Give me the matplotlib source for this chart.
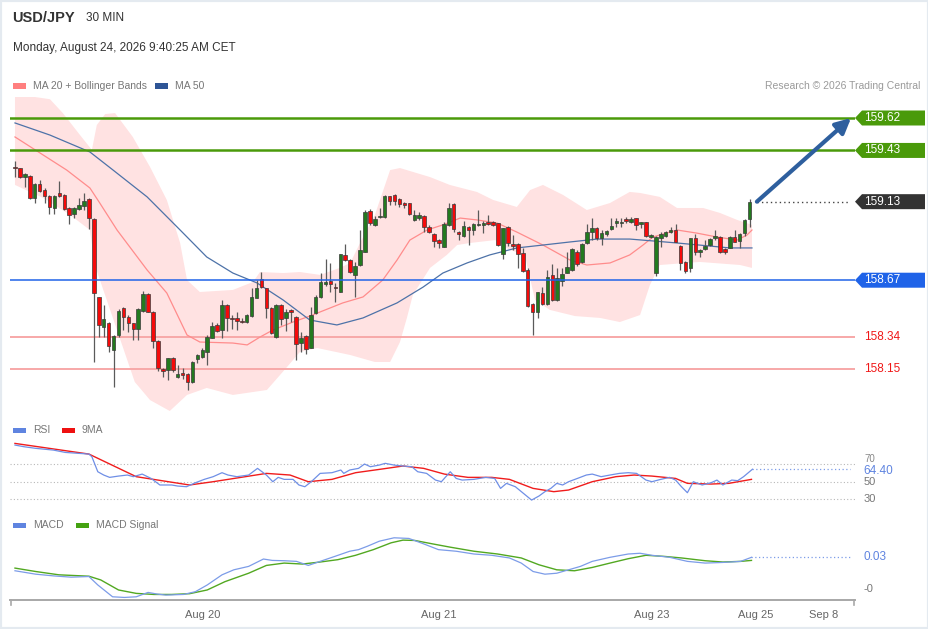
import numpy as np
import matplotlib
matplotlib.use("Agg")
import matplotlib.pyplot as plt
from matplotlib.patches import Polygon, Rectangle
from matplotlib.lines import Line2D
import matplotlib.transforms as mtransforms

plt.rcParams['font.family'] = ['Liberation Sans', 'DejaVu Sans']

W, H = 929, 629

# ---- 30 min candles (open, high, low, close) ----
opens = [159.333, 159.325, 159.272, 159.282, 159.149, 159.231, 159.200, 159.165, 159.095, 159.179,
         159.169, 159.091, 159.058, 159.087, 159.104, 159.145, 159.026, 158.570, 158.398, 158.417,
         158.261, 158.349, 158.509, 158.456, 158.417, 158.384, 158.489, 158.591, 158.486, 158.314,
         158.148, 158.144, 158.216, 158.105, 158.124, 158.119, 158.076, 158.208, 158.222, 158.251,
         158.333, 158.407, 158.378, 158.525, 158.450, 158.450, 158.431, 158.427, 158.462, 158.568,
         158.675, 158.622, 158.505, 158.339, 158.525, 158.446, 158.493, 158.454, 158.300, 158.343,
         158.275, 158.476, 158.573, 158.648, 158.665, 158.628, 158.603, 158.817, 158.786, 158.700,
         158.759, 158.837, 159.075, 158.993, 159.038, 159.038, 159.163, 159.169, 159.145, 159.120,
         159.120, 159.022, 159.032, 159.048, 158.979, 158.938, 158.905, 158.866, 158.993, 159.114,
         158.954, 158.929, 158.983, 158.964, 158.993, 158.993, 159.013, 159.013, 159.003, 158.821,
         158.983, 158.880, 158.882, 158.827, 158.730, 158.530, 158.486, 158.597, 158.528, 158.700,
         158.554, 158.665, 158.714, 158.730, 158.837, 158.774, 158.886, 158.954, 158.977, 158.919,
         158.938, 158.970, 159.003, 159.003, 159.026, 159.013, 159.032, 158.997, 159.009, 158.925,
         158.710, 158.919, 158.929, 158.954, 158.964, 158.872, 158.778, 158.739, 158.915, 158.833,
         158.851, 158.876, 158.915, 158.925, 158.853, 158.860, 158.925, 158.899, 158.944, 159.028]
highs = [159.368, 159.325, 159.296, 159.286, 159.237, 159.257, 159.208, 159.169, 159.169, 159.251,
         159.173, 159.100, 159.100, 159.149, 159.179, 159.149, 159.032, 158.573, 158.525, 158.427,
         158.349, 158.501, 158.515, 158.466, 158.421, 158.505, 158.607, 158.593, 158.489, 158.320,
         158.154, 158.216, 158.222, 158.173, 158.154, 158.124, 158.197, 158.236, 158.275, 158.349,
         158.427, 158.417, 158.554, 158.528, 158.466, 158.486, 158.446, 158.470, 158.626, 158.671,
         158.720, 158.626, 158.515, 158.528, 158.528, 158.501, 158.501, 158.460, 158.368, 158.349,
         158.515, 158.583, 158.710, 158.794, 158.772, 158.651, 158.825, 158.880, 158.792, 158.774,
         158.964, 159.081, 159.087, 159.048, 159.091, 159.169, 159.165, 159.173, 159.149, 159.130,
         159.124, 159.081, 159.071, 159.052, 158.993, 158.944, 158.909, 159.013, 159.124, 159.120,
         158.958, 159.017, 158.987, 159.003, 159.081, 159.017, 159.052, 159.017, 159.007, 158.977,
         158.987, 158.935, 158.886, 158.856, 158.739, 158.534, 158.603, 158.632, 158.730, 158.763,
         158.739, 158.743, 158.837, 158.856, 158.847, 158.886, 158.997, 159.032, 158.983, 158.964,
         158.964, 159.036, 159.032, 159.032, 159.042, 159.042, 159.036, 159.013, 159.013, 158.942,
         158.929, 158.954, 158.958, 158.983, 158.997, 158.876, 158.782, 158.919, 158.938, 158.853,
         158.905, 158.919, 158.964, 158.929, 158.856, 158.929, 158.964, 158.944, 159.026, 159.143]
lows = [159.276, 159.266, 159.214, 159.148, 159.120, 159.188, 159.120, 159.056, 159.058, 159.159,
        159.081, 158.997, 159.032, 159.081, 159.081, 158.970, 158.193, 158.339, 158.339, 158.251,
        158.046, 158.339, 158.378, 158.368, 158.320, 158.320, 158.486, 158.482, 158.271, 158.138,
        158.105, 158.085, 158.134, 158.099, 158.091, 158.027, 158.070, 158.183, 158.216, 158.173,
        158.329, 158.368, 158.329, 158.372, 158.384, 158.378, 158.417, 158.417, 158.456, 158.564,
        158.626, 158.446, 158.353, 158.333, 158.407, 158.372, 158.427, 158.203, 158.251, 158.236,
        158.271, 158.470, 158.568, 158.638, 158.603, 158.544, 158.599, 158.782, 158.710, 158.573,
        158.755, 158.833, 158.993, 158.989, 159.032, 159.032, 159.110, 159.110, 159.100, 159.091,
        159.052, 159.018, 159.022, 158.950, 158.944, 158.866, 158.860, 158.862, 158.989, 158.950,
        158.905, 158.925, 158.876, 158.935, 158.987, 158.948, 158.993, 158.989, 158.872, 158.794,
        158.872, 158.847, 158.739, 158.720, 158.515, 158.349, 158.446, 158.525, 158.525, 158.550,
        158.550, 158.638, 158.710, 158.724, 158.755, 158.769, 158.880, 158.905, 158.905, 158.876,
        158.931, 158.964, 158.983, 158.983, 159.003, 159.003, 158.964, 158.974, 158.925, 158.915,
        158.696, 158.866, 158.925, 158.944, 158.892, 158.730, 158.710, 158.716, 158.817, 158.808,
        158.847, 158.872, 158.905, 158.827, 158.823, 158.856, 158.892, 158.860, 158.931, 158.983]
closes = [159.325, 159.276, 159.292, 159.149, 159.233, 159.194, 159.165, 159.100, 159.161, 159.165,
          159.085, 159.052, 159.091, 159.110, 159.134, 159.036, 158.593, 158.407, 158.441, 158.286,
          158.343, 158.489, 158.452, 158.417, 158.382, 158.499, 158.587, 158.486, 158.314, 158.154,
          158.138, 158.212, 158.144, 158.122, 158.115, 158.076, 158.193, 158.232, 158.261, 158.339,
          158.404, 158.372, 158.525, 158.446, 158.443, 158.431, 158.423, 158.466, 158.570, 158.622,
          158.632, 158.505, 158.359, 158.525, 158.441, 158.486, 158.486, 158.294, 158.333, 158.267,
          158.466, 158.573, 158.657, 158.661, 158.646, 158.624, 158.821, 158.788, 158.720, 158.755,
          158.847, 159.067, 159.003, 159.026, 159.046, 159.163, 159.136, 159.136, 159.114, 159.110,
          159.056, 159.050, 159.052, 158.979, 158.954, 158.899, 158.886, 158.997, 159.095, 158.970,
          158.942, 158.987, 158.964, 158.997, 158.999, 159.007, 158.997, 158.993, 158.876, 158.974,
          158.886, 158.872, 158.821, 158.724, 158.521, 158.486, 158.599, 158.528, 158.691, 158.554,
          158.685, 158.704, 158.749, 158.853, 158.763, 158.880, 158.950, 158.977, 158.915, 158.944,
          158.958, 158.987, 159.017, 159.013, 159.017, 159.028, 158.993, 159.009, 158.931, 158.935,
          158.925, 158.940, 158.954, 158.964, 158.895, 158.769, 158.724, 158.915, 158.833, 158.847,
          158.872, 158.911, 158.929, 158.833, 158.833, 158.925, 158.895, 158.940, 159.022, 159.126]

# ---- Bollinger bands / moving averages (candle index, price) ----
bb_upper_idx = [0, 7.1, 9.7, 13.2, 15.6, 16.6, 18.3, 20.3, 23.9, 27.4, 30.8, 33.5, 34.9, 37.5, 44.2,
                48.3, 49.7, 54.4, 57.8, 61.9, 65.9, 68.0, 70.0, 73.0, 76.1, 78.1, 84.2, 88.2, 93.7,
                97.0, 101.8, 104.5, 107.1, 111.2, 116.0, 120.7, 124.7, 126.8, 130.8, 134.3, 139.6,
                143.0, 146.5, 149.5]
bb_upper = [159.76, 159.73, 159.649, 159.520, 159.433, 159.579, 159.643, 159.649, 159.509, 159.333,
            159.140, 158.888, 158.671, 158.601, 158.613, 158.660, 158.718, 158.712, 158.718, 158.701,
            158.742, 158.771, 158.888, 159.052, 159.315, 159.327, 159.274, 159.228, 159.187, 159.140,
            159.099, 159.198, 159.228, 159.169, 159.081, 159.122, 159.187, 159.181, 159.158, 159.093,
            159.093, 159.064, 159.023, 158.994]
bb_lower_idx = [0, 5.7, 11.2, 15.2, 16.2, 19.3, 24.3, 27.4, 31.4, 34.9, 38.9, 44.2, 51.1, 55.2, 57.8,
                61.3, 68.0, 73.0, 76.1, 78.1, 79.5, 80.7, 84.2, 87.6, 89.7, 92.3, 97.4, 100.4, 103.4,
                105.5, 108.5, 113.6, 118.7, 122.7, 126.8, 128.8, 130.8, 138.9, 147.1, 149.5]
bb_lower = [159.228, 159.152, 159.052, 158.964, 158.759, 158.496, 158.074, 157.968, 157.904, 157.998,
            158.039, 157.998, 158.027, 158.162, 158.250, 158.273, 158.232, 158.191, 158.191, 158.308,
            158.449, 158.583, 158.742, 158.818, 158.876, 158.888, 158.905, 158.847, 158.818, 158.554,
            158.496, 158.460, 158.449, 158.425, 158.466, 158.642, 158.759, 158.777, 158.759, 158.742]
ma20_idx = [0, 10.5, 15.2, 17.2, 20.7, 26.8, 30.8, 34.9, 37.5, 44.2, 47.1, 49.7, 52.3, 56.4, 59.8,
            66.5, 70.6, 74.6, 77.5, 80.1, 83.6, 86.8, 90.3, 93.7, 97.8, 101.8, 107.1, 112.6, 116.0,
            120.7, 124.7, 127.4, 129.4, 134.3, 138.3, 142.4, 146.5, 148.5, 149.5]
ma20 = [159.509, 159.315, 159.210, 159.122, 158.964, 158.730, 158.595, 158.349, 158.308, 158.302,
        158.291, 158.337, 158.378, 158.425, 158.460, 158.537, 158.572, 158.671, 158.788, 158.905,
        158.964, 158.994, 159.034, 159.023, 159.005, 158.952, 158.876, 158.788, 158.759, 158.771,
        158.818, 158.876, 158.923, 158.964, 158.946, 158.923, 158.905, 158.935, 158.964]
ma50_idx = [0, 7.1, 15.2, 19.9, 26.8, 33.5, 38.9, 44.2, 49.1, 54.4, 59.8, 65.3, 70.6, 77.5, 82.8,
            86.8, 91.7, 96.3, 101.8, 107.1, 112.6, 118.1, 124.7, 129.4, 134.3, 141.0, 145.0, 149.5]
ma50 = [159.591, 159.520, 159.421, 159.315, 159.158, 158.964, 158.806, 158.712, 158.654, 158.554,
        158.437, 158.408, 158.449, 158.537, 158.630, 158.712, 158.771, 158.818, 158.859, 158.876,
        158.894, 158.911, 158.911, 158.900, 158.888, 158.870, 158.859, 158.859]

# ---- RSI pane ----
rsi_idx = [0, 1.8, 4.2, 7.8, 10.2, 15.0, 15.6, 16.8, 18.0, 19.2, 21.0, 22.8, 24.0, 25.8, 27.6, 29.4,
           31.8, 33.0, 34.8, 36.6, 38.4, 40.2, 42.0, 43.2, 45.0, 47.4, 49.2, 51.0, 52.3, 53.4, 54.6,
           56.4, 57.6, 58.8, 60.1, 61.9, 64.3, 66.1, 66.7, 67.9, 69.7, 70.9, 72.1, 73.9, 75.1, 76.9,
           78.7, 80.5, 81.7, 83.5, 85.3, 86.5, 88.3, 89.5, 90.7, 93.1, 95.5, 97.3, 98.5, 99.7, 101.5,
           103.3, 104.8, 106.3, 107.5, 108.7, 109.9, 111.1, 112.3, 114.1, 115.9, 117.1, 118.9, 120.7,
           122.6, 124.4, 126.1, 128.0, 129.2, 131.0, 132.8, 134.0, 135.2, 136.4, 137.6, 139.4, 141.2,
           142.4, 143.6, 145.4, 146.6, 147.8, 149.6]
rsi = [92.3, 90.4, 88.5, 86.5, 83.8, 81.9, 78.8, 61.5, 57.7, 55.0, 56.5, 57.7, 55.8, 58.8, 53.8, 46.2,
       46.2, 45.0, 44.2, 48.8, 52.7, 55.8, 60.4, 57.7, 55.8, 57.7, 65.4, 57.7, 50.0, 55.0, 52.7,
       52.7, 46.2, 44.2, 50.0, 59.6, 60.4, 63.5, 59.6, 63.5, 65.4, 70.4, 67.3, 69.2, 71.2, 69.2,
       68.1, 67.3, 61.5, 59.6, 51.9, 50.0, 61.5, 53.8, 51.9, 52.7, 55.0, 53.8, 42.3, 48.1, 44.2,
       35.8, 28.8, 33.5, 38.5, 42.3, 48.1, 46.2, 50.0, 53.8, 57.7, 58.8, 55.8, 57.7,
       59.6, 60.4, 59.6, 51.9, 50.0, 52.7, 55.0, 51.9, 44.2, 37.3, 50.0, 46.2, 48.8,
       51.9, 46.2, 51.9, 51.2, 55.8, 64.4]
rsi_ma_idx = [0, 15.0, 24.6, 35.4, 40.2, 51.0, 55.8, 59.5, 64.3, 69.1, 73.9, 78.7, 82.9, 87.1, 91.9,
              96.7, 100.3, 105.1, 109.3, 112.3, 117.1, 121.9, 125.6, 129.2, 134.0, 136.4, 141.2,
              144.8, 149.4]
rsi_ma = [94.2, 81.9, 55.8, 46.2, 50.0, 59.6, 57.7, 50.0, 52.7, 60.4, 64.2, 68.1, 65.4, 58.8, 55.0,
          55.0, 52.7, 42.3, 38.5, 40.4, 50.0, 55.8, 57.7, 56.5, 53.8, 48.1, 47.3, 48.1, 52.7]

# ---- MACD pane ----
macd_idx = [0, 4.2, 7.8, 11.4, 15.0, 16.8, 19.8, 22.2, 24.6, 27.0, 28.8, 30.6, 34.2, 36.6, 39.0, 42.0,
            44.4, 47.4, 50.4, 52.2, 54.6, 57.1, 59.5, 61.9, 64.9, 67.9, 69.7, 71.5, 73.9, 76.9, 79.9,
            82.9, 85.9, 89.5, 93.1, 96.7, 100.3, 102.7, 105.1, 107.5, 109.9, 112.3, 114.7, 117.1,
            120.7, 124.4, 126.8, 129.2, 132.8, 136.4, 140.0, 143.6, 147.2, 149.4]
macd = [0.0171, 0.0139, 0.0123, 0.0111, 0.0117, 0.0038, -0.0073, -0.0079, -0.0073, -0.0032, -0.0047,
        -0.0057, -0.0051, -0.0025, 0.0038, 0.0133, 0.0180, 0.0212, 0.0281, 0.0268, 0.0265, 0.0259,
        0.0221, 0.0259, 0.0306, 0.0354, 0.0369, 0.0401, 0.0448, 0.0480, 0.0474, 0.0423, 0.0369,
        0.0354, 0.0328, 0.0316, 0.0291, 0.0243, 0.0164, 0.0139, 0.0148, 0.0180, 0.0212, 0.0259,
        0.0297, 0.0328, 0.0335, 0.0316, 0.0297, 0.0259, 0.0243, 0.0249, 0.0259, 0.0297]
signal_idx = [0, 4.2, 8.9, 15.0, 17.4, 21.0, 24.6, 28.2, 31.8, 35.4, 39.0, 42.6, 47.4, 51.0, 54.6, 58.3,
              61.9, 65.5, 69.1, 72.7, 76.3, 78.7, 81.1, 84.7, 88.3, 93.1, 97.9, 102.7, 106.3, 109.9,
              113.5, 117.1, 120.7, 124.4, 128.0, 131.6, 135.2, 140.0, 143.6, 147.2, 149.4]
signal = [0.0196, 0.0164, 0.0133, 0.0120, 0.0085, -0.0009, -0.0041, -0.0051, -0.0051, -0.0044, -0.0009,
          0.0069, 0.0148, 0.0221, 0.0243, 0.0234, 0.0253, 0.0275, 0.0316, 0.0369, 0.0433, 0.0458,
          0.0455, 0.0423, 0.0392, 0.0354, 0.0328, 0.0291, 0.0227, 0.0180, 0.0171, 0.0202, 0.0243,
          0.0284, 0.0316, 0.0306, 0.0291, 0.0265, 0.0253, 0.0259, 0.0268]

# ---- levels / labels ----
level_prices = [159.62, 159.43, 159.13, 158.67, 158.34, 158.15]
level_kinds = ["res", "res", "last", "pivot", "sup", "sup"]
tick_pos = [38.1, 86.0, 129.2, 150.3, 164.1]
tick_labels = ["Aug 20", "Aug 21", "Aug 23", "Aug 25", "Sep 8"]

GREEN_LVL = "#4a9a0a"
BLUE_LVL = "#1f63e8"
SUP_RED = "#f7a8a8"
XLIM = (-1.01, 170.4)

fig = plt.figure(figsize=(W / 100, H / 100), dpi=100)
fig.patch.set_facecolor("white")


def fx(px):
    return px / W


def fy(py):
    return 1 - py / H


def add_ax(top, bottom):
    a = fig.add_axes([fx(10), fy(bottom), fx(855) - fx(10), fy(top) - fy(bottom)])
    a.set_xlim(*XLIM)
    a.set_facecolor("none")
    for s in a.spines.values():
        s.set_visible(False)
    a.set_xticks([]); a.set_yticks([])
    return a


# ---------------- price pane ----------------
ax = add_ax(97, 418)
ax.set_ylim(157.863, 159.743)

band_x = list(bb_upper_idx) + list(bb_lower_idx[::-1])
band_y = list(bb_upper) + list(bb_lower[::-1])
ax.fill(band_x, band_y, color="#ffe2e2", lw=0, zorder=1)
ax.plot(ma20_idx, ma20, color="#ff8c8c", lw=0.9, zorder=2)
ax.plot(ma50_idx, ma50, color="#4d72a8", lw=0.9, zorder=2)

for p, k in zip(level_prices, level_kinds):
    if k == "res":
        ax.axhline(p, color=GREEN_LVL, lw=1.8, zorder=4)
    elif k == "pivot":
        ax.axhline(p, color=BLUE_LVL, lw=1.1, zorder=4)
    elif k == "sup":
        ax.axhline(p, color=SUP_RED, lw=1.4, zorder=1.5)

x = np.arange(len(opens))
o = np.array(opens); c = np.array(closes)
up = c >= o
body_col = np.where(up, "#237a1f", "#f50a0a")
ax.vlines(x, lows, highs, color="#5a5a5a", lw=0.9, zorder=3)
ax.bar(x, np.maximum(np.abs(c - o), 0.006), bottom=np.minimum(o, c), width=0.72,
       color=body_col, edgecolor="#3a3a3a", linewidth=0.5, zorder=3.5)

# last price dotted line and target arrow
last = level_prices[2]
ax.plot([150.6, 169.4], [last, last], ls=(0, (1, 2.2)), color="#444444", lw=1.0, zorder=4)
ax.annotate("", xy=(169.6, level_prices[0]), xytext=(150.5, last),
            arrowprops=dict(arrowstyle="-|>,head_length=0.9,head_width=0.45",
                            color="#2e5f9e", lw=3.0, shrinkA=0, shrinkB=0),
            zorder=6, annotation_clip=False)

# right-hand price tags
tr = mtransforms.blended_transform_factory(fig.transFigure, ax.transData)
hh = 7.5 / 170.75
tag_colors = {"res": GREEN_LVL, "last": "#333333", "pivot": BLUE_LVL}
for p, k in zip(level_prices, level_kinds):
    if k in tag_colors:
        pts = [(fx(855), p), (fx(862), p + hh), (fx(925), p + hh), (fx(925), p - hh), (fx(862), p - hh)]
        ax.add_patch(Polygon(pts, closed=True, transform=tr, facecolor=tag_colors[k],
                             edgecolor="none", clip_on=False, zorder=7))
        ax.text(fx(864), p, f"{p:.2f}", transform=tr, color="white", fontsize=8.5,
                va="center", ha="left", zorder=8, clip_on=False)
    else:
        ax.text(fx(864), p, f"{p:.2f}", transform=tr, color="#f01818", fontsize=8.5,
                va="center", ha="left", clip_on=False)

# ---------------- RSI pane ----------------
ax2 = add_ax(437, 508)
ax2.set_ylim(19.65, 101.6)
for lv in (70, 50, 30):
    ax2.axhline(lv, color="#b8b8b8", ls=(0, (1, 2)), lw=0.8)
ax2.plot(rsi_idx, rsi, color="#6f8fe6", lw=0.9, zorder=3)
ax2.plot(rsi_ma_idx, rsi_ma, color="#f01c1c", lw=1.0, zorder=2)
ax2.plot([rsi_idx[-1], 169.4], [rsi[-1], rsi[-1]], ls=(0, (1, 2)), color="#7c9ce8", lw=0.9)
tr2 = mtransforms.blended_transform_factory(fig.transFigure, ax2.transData)
ax2.text(fx(864), 76.5, "70", transform=tr2, color="#888888", fontsize=7, va="center", clip_on=False)
ax2.text(fx(864), 50, "50", transform=tr2, color="#777777", fontsize=8, va="center", clip_on=False)
ax2.text(fx(864), 30, "30", transform=tr2, color="#777777", fontsize=8, va="center", clip_on=False)
ax2.text(fx(863), rsi[-1] - 2.5, f"{rsi[-1]:.2f}", transform=tr2, color="#5f84e0", fontsize=8.5,
         va="center", clip_on=False)

# ---------------- MACD pane ----------------
ax3 = add_ax(530, 600)
ax3.set_ylim(-0.0103, 0.0553)
ax3.plot(macd_idx, macd, color="#7c9ce8", lw=0.9, zorder=3)
ax3.plot(signal_idx, signal, color="#52a821", lw=1.0, zorder=2)
ax3.plot([macd_idx[-1], 169.4], [macd[-1], macd[-1]], ls=(0, (1, 2)), color="#7c9ce8", lw=0.9)
tr3 = mtransforms.blended_transform_factory(fig.transFigure, ax3.transData)
ax3.text(fx(864), macd[-1], "0.03", transform=tr3, color="#5f84e0", fontsize=8.5, va="center",
         clip_on=False)
ax3.text(fx(864), 0.0, "-0", transform=tr3, color="#777777", fontsize=8, va="center", clip_on=False)
ax3.spines["bottom"].set_visible(True)
ax3.spines["bottom"].set_color("#a8a8a8")
ax3.spines["bottom"].set_linewidth(1.4)
ax3.set_xticks(tick_pos)
ax3.set_xticklabels(tick_labels, fontsize=8, color="#666666")
ax3.tick_params(axis="x", length=0, pad=7)
for px_ in (11.5, 854):
    fig.add_artist(Line2D([fx(px_), fx(px_)], [fy(600), fy(605)], color="#a8a8a8", lw=1.2))

# ---------------- header & legends ----------------
fig.text(fx(12), fy(18), "USD/JPY", fontsize=10.5, fontweight="bold", color="#333333", va="center")
fig.text(fx(86), fy(18), "30 MIN", fontsize=8.5, color="#333333", va="center")
fig.text(fx(13), fy(48), "Monday, August 24, 2026 9:40:25 AM CET", fontsize=8.5, color="#333333",
         va="center")
fig.text(fx(920), fy(86), "Research \u00a9 2026 Trading Central", fontsize=7.5, color="#9a9a9a",
         va="center", ha="right")


def legend_item(px_, py_, color, label):
    fig.patches.append(Rectangle((fx(px_), fy(py_ + 2.5)), fx(13), 5 / H, transform=fig.transFigure,
                                 facecolor=color, edgecolor="none"))
    fig.text(fx(px_ + 20), fy(py_), label, fontsize=7.5, color="#777777", va="center")


legend_item(13, 86, "#ff7f7f", "MA 20 + Bollinger Bands")
legend_item(155, 86, "#2e5596", "MA 50")
legend_item(13, 430, "#5f84e0", "RSI")
legend_item(62, 430, "#ee1111", "9MA")
legend_item(13, 525, "#5f84e0", "MACD")
legend_item(76, 525, "#44a211", "MACD Signal")

fig.patches.append(Rectangle((0, 0), 1, 1, transform=fig.transFigure, facecolor="none",
                             edgecolor="#e4eaf0", lw=3))

fig.savefig("out.png", dpi=100)
